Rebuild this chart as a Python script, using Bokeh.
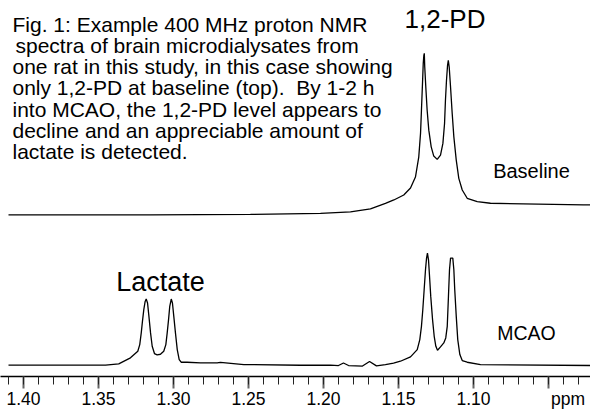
from bokeh.plotting import figure
from bokeh.models import Range1d, FixedTicker, Label
from bokeh.embed import file_html
from bokeh.resources import INLINE

# ---------------- data ----------------
# Baseline spectrum (top trace): chemical shift (ppm) and relative intensity
base_ppm = [1.4100, 1.3153, 1.2487, 1.2020, 1.1820, 1.1687, 1.1587, 1.1531, 1.1465,
            1.1420, 1.1387, 1.1365, 1.1353, 1.1347, 1.1340, 1.1335, 1.1331, 1.1328,
            1.1325, 1.1318, 1.1309, 1.1298, 1.1282, 1.1265, 1.1242, 1.1220, 1.1204,
            1.1193, 1.1187, 1.1180, 1.1173, 1.1168, 1.1162, 1.1153, 1.1142, 1.1131,
            1.1115, 1.1098, 1.1075, 1.1042, 1.0975, 1.0887, 1.0267, 1.0220]
base_int = [0.0, 0.0, 0.5, 1.5, 3.0, 6.0, 11.5, 15.0, 20.0,
            27.0, 38.0, 58.0, 82.0, 105.0, 132.0, 152.0, 160.0, 162.0,
            148.3, 128.3, 105.0, 85.0, 68.3, 59.0, 55.7, 60.0, 71.7,
            91.7, 115.0, 135.0, 150.0, 155.0, 148.3, 128.3, 101.7, 78.3,
            55.0, 36.7, 25.0, 16.7, 13.3, 11.7, 10.0, 10.0]

# MCAO spectrum (bottom trace)
mcao_ppm = [1.4100, 1.3753, 1.3453, 1.3365, 1.3287, 1.3238, 1.3225, 1.3215, 1.3207,
            1.3198, 1.3189, 1.3182, 1.3173, 1.3165, 1.3153, 1.3142, 1.3127, 1.3109,
            1.3087, 1.3065, 1.3051, 1.3042, 1.3033, 1.3025, 1.3015, 1.3007, 1.2998,
            1.2987, 1.2975, 1.2962, 1.2949, 1.2909, 1.2820, 1.2709, 1.2687, 1.2531,
            1.2153, 1.1953, 1.1900, 1.1867, 1.1833, 1.1740, 1.1693, 1.1647, 1.1587,
            1.1533, 1.1487, 1.1420, 1.1375, 1.1358, 1.1347, 1.1338, 1.1329, 1.1320,
            1.1313, 1.1307, 1.1300, 1.1293, 1.1285, 1.1273, 1.1262, 1.1251, 1.1240,
            1.1220, 1.1198, 1.1185, 1.1175, 1.1167, 1.1160, 1.1153, 1.1138, 1.1131,
            1.1125, 1.1115, 1.1105, 1.1091, 1.1075, 1.1042, 1.0953, 1.0220]
mcao_int = [0.0, 0.0, 0.0, 1.2, 7.2, 13.8, 20.5, 32.2, 43.8,
            55.5, 63.8, 66.2, 62.2, 50.5, 32.2, 18.8, 11.5, 10.2,
            10.8, 13.8, 20.5, 32.2, 45.5, 58.8, 66.2, 62.2, 48.8,
            32.2, 15.5, 5.5, 2.8, 2.8, 2.2, 2.2, 2.7, 0.5,
            -0.2, 0.0, -0.5, 2.0, -0.5, -1.0, 3.5, -0.8, 0.5,
            2.0, 3.8, 8.2, 15.5, 25.5, 38.8, 55.5, 75.5, 95.5,
            107.2, 112.2, 105.5, 88.8, 68.8, 45.5, 28.8, 18.8, 14.8,
            18.2, 22.2, 27.2, 38.8, 68.8, 95.5, 107.2, 107.2, 95.5,
            75.5, 48.8, 25.5, 10.5, 4.5, 2.8, 0.5, -0.5]

major_ticks = [1.40, 1.35, 1.30, 1.25, 1.20, 1.15, 1.10, 1.05]
minor_ticks = [round(1.41 - 0.01 * i, 2) for i in range(0, 39)]
tick_labels = {1.40: "1.40", 1.35: "1.35", 1.30: "1.30", 1.25: "1.25",
               1.20: "1.20", 1.15: "1.15", 1.10: "1.10",
               1.05: "\u00a0" * 8 + "ppm"}

caption_lines = ["Fig. 1: Example 400 MHz proton NMR",
                 "spectra of brain microdialysates from",
                 "one rat in this study, in this case showing",
                 "only 1,2-PD at baseline (top).\u00a0 By 1-2 h",
                 "into MCAO, the 1,2-PD level appears to",
                 "decline and an appreciable amount of",
                 "lactate is detected."]

# ---------------- layout helpers (reference pixel -> data) ----------------
def px_x(x):
    return 1.40 - (x - 23) / 1500.0

def px_y(y):
    return 377.0 - y

BASE_OFFSET = 162.0
MCAO_OFFSET = 11.5

REG = "Liberation Sans, Arial, sans-serif"

p = figure(width=590, height=411, x_range=Range1d(px_x(0), px_x(590)), y_range=Range1d(0, 377),
           output_backend="svg", toolbar_location=None,
           min_border_left=0, min_border_right=0, min_border_top=0, min_border_bottom=34)
p.outline_line_color = None
p.background_fill_color = "white"
p.border_fill_color = "white"
p.grid.visible = False
p.yaxis.visible = False

ax = p.xaxis[0]
ax.ticker = FixedTicker(ticks=major_ticks, minor_ticks=minor_ticks)
ax.major_label_overrides = tick_labels
ax.axis_line_color = "black"
ax.axis_line_width = 1.5
ax.major_tick_in = 0
ax.major_tick_out = 12
ax.minor_tick_in = 0
ax.minor_tick_out = 8
ax.major_tick_line_color = "#666666"
ax.major_tick_line_width = 2
ax.minor_tick_line_color = "#222222"
ax.minor_tick_line_width = 1
ax.major_label_standoff = 0
ax.major_label_text_font = REG
ax.major_label_text_font_size = "17.5px"
ax.major_label_text_color = "black"

p.line(base_ppm, [BASE_OFFSET + v for v in base_int], line_color="black", line_width=1.3)
p.line(mcao_ppm, [MCAO_OFFSET + v for v in mcao_int], line_color="black", line_width=1.3)

# caption
cap_x = [12, 15, 12, 12, 12, 12, 12]
cap_base = [24, 45.5, 66.5, 87.5, 109, 130, 151]
for t, x, y in zip(caption_lines, cap_x, cap_base):
    p.add_layout(Label(x=px_x(x), y=px_y(y), text=t, text_font=REG, text_font_size="21px",
                       text_color="black", text_align="left", text_baseline="alphabetic"))

labels = [("1,2-PD", 444.5, 19, "26px"),
          ("Lactate", 160, 282, "27px"),
          ("Baseline", 531, 171, "20px"),
          ("MCAO", 526, 333, "19.5px")]
for t, x, y, s in labels:
    p.add_layout(Label(x=px_x(x), y=px_y(y), text=t, text_font=REG, text_font_size=s,
                       text_color="black", text_align="center", text_baseline="alphabetic"))

open("out.html", "w").write(file_html(p, INLINE))
